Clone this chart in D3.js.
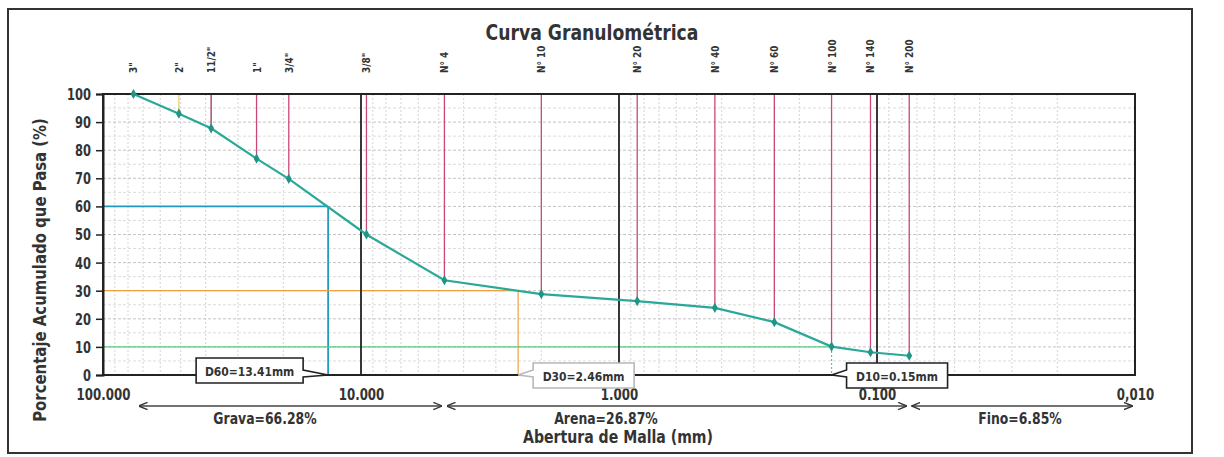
<!DOCTYPE html>
<html><head><meta charset="utf-8">
<script src="https://cdn.jsdelivr.net/npm/d3@7"></script>
<style>
html,body{margin:0;padding:0;background:#fff;}
svg text{font-family:"Liberation Sans Narrow","Arial Narrow","DejaVu Sans Condensed",sans-serif;font-weight:bold;fill:#333;}
</style></head>
<body><svg id="c" width="1224" height="457"></svg>
<script>
const sieveLabels = ['3"','2"','11/2"','1"','3/4"','3/8"','N° 4','N° 10','N° 20','N° 40','N° 60','N° 100','N° 140','N° 200'];
const sieveSizes = [76.2, 50.8, 38.1, 25.4, 19.05, 9.525, 4.75, 2.0, 0.85, 0.425, 0.25, 0.15, 0.106, 0.075];
const passing = [100, 93, 87.8, 77, 69.8, 50, 33.72, 28.8, 26.3, 23.9, 18.8, 10.1, 8.1, 6.85];
const xTickValues = [100, 10, 1, 0.1, 0.01];
const xTickLabels = ['100.000', '10.000', '1.000', '0.100', '0,010'];
const yTickValues = [0,10,20,30,40,50,60,70,80,90,100];
const dNames = ['D60','D30','D10'];
const dPercents = [60, 30, 10];
const dSizes = [13.41, 2.46, 0.15];
const fractionNames = ['Grava','Arena','Fino'];
const fractionValues = [66.28, 26.87, 6.85];
const fractionBounds = [[76.2, 4.75],[4.75, 0.075],[0.075, 0.01]];

const svg = d3.select('#c');
const L = 103, R = 1135, T = 94, B = 375;
const x = d3.scaleLog().domain([100, 0.01]).range([L, R]);
const y = d3.scaleLinear().domain([0, 100]).range([B, T]);

function squeeze(sel, k) {
  sel.each(function () {
    const len = this.getComputedTextLength();
    d3.select(this).attr('textLength', len * k).attr('lengthAdjust', 'spacingAndGlyphs');
  });
  return sel;
}

// outer frame
svg.append('rect').attr('x', 8).attr('y', 9).attr('width', 1184).attr('height', 444)
  .attr('fill', 'none').attr('stroke', '#333').attr('stroke-width', 2);

// minor grid
const minorX = [];
[10, 1, 0.1, 0.01].forEach(dec => { for (let k = 2; k <= 9; k++) minorX.push(dec * k); });
svg.append('g').selectAll('line').data(minorX).join('line')
  .attr('x1', d => x(d)).attr('x2', d => x(d)).attr('y1', T).attr('y2', B)
  .attr('stroke', '#d4d4d4').attr('stroke-width', 1).attr('stroke-dasharray', '2,2');
svg.append('g').selectAll('line').data(d3.range(5, 100, 5)).join('line')
  .attr('x1', L).attr('x2', R).attr('y1', d => y(d)).attr('y2', d => y(d))
  .attr('stroke', d => d % 10 === 0 ? '#c4c4c4' : '#dcdcdc').attr('stroke-width', 1).attr('stroke-dasharray', '3,2');

// D helper lines
const dColors = ['#1f9cc0', '#f0a040', '#5cc880'];
dNames.forEach((n, i) => {
  svg.append('line').attr('x1', L).attr('x2', x(dSizes[i])).attr('y1', y(dPercents[i])).attr('y2', y(dPercents[i]))
    .attr('stroke', dColors[i]).attr('stroke-width', i === 0 ? 1.8 : 1.3);
  svg.append('line').attr('x1', x(dSizes[i])).attr('x2', x(dSizes[i])).attr('y1', y(dPercents[i])).attr('y2', y(0))
    .attr('stroke', dColors[i]).attr('stroke-width', i === 0 ? 1.8 : 1.2)
    .attr('stroke-dasharray', i === 2 ? '2,2' : null);
});

// decade lines
svg.append('g').selectAll('line').data([10, 1, 0.1]).join('line')
  .attr('x1', d => x(d)).attr('x2', d => x(d)).attr('y1', T).attr('y2', B)
  .attr('stroke', '#222').attr('stroke-width', 1.8);

// sieve verticals
svg.append('g').selectAll('line').data(sieveSizes.map((s, i) => ({s, p: passing[i], i})).filter(d => d.p < 100)).join('line')
  .attr('x1', d => x(d.s)).attr('x2', d => x(d.s)).attr('y1', T).attr('y2', d => y(d.p))
  .attr('stroke', d => d.i === 1 ? '#e6cf70' : (d.i === 2 ? '#a0345e' : '#c8487a')).attr('stroke-width', 1.3);

// plot border
svg.append('path').attr('d', `M${L},${T}H${R}V${B}H${L}Z`).attr('fill', 'none').attr('stroke', '#222').attr('stroke-width', 2);

// y axis ticks
const yAxis = d3.axisLeft(y).tickValues(yTickValues).tickSize(7).tickPadding(5);
const gy = svg.append('g').attr('transform', `translate(${L},0)`).call(yAxis);
gy.select('.domain').attr('stroke', '#222').attr('stroke-width', 2);
gy.selectAll('.tick line').attr('stroke', '#222').attr('stroke-width', 1.5);
gy.selectAll('.tick text').attr('font-size', 15).attr('fill', '#333').attr('dy', '0.36em');
squeeze(gy.selectAll('.tick text'), 0.85);

// x axis labels
const xAxis = d3.axisBottom(x).tickValues(xTickValues).tickFormat((d, i) => xTickLabels[i]).tickSize(0).tickPadding(14);
const gx = svg.append('g').attr('transform', `translate(0,${B})`).call(xAxis);
gx.select('.domain').remove();
gx.selectAll('.tick text').attr('font-size', 16).attr('fill', '#333');
squeeze(gx.selectAll('.tick text'), 0.82);

// curve
svg.append('path').datum(sieveSizes.map((s, i) => [s, passing[i]]))
  .attr('d', d3.line().x(d => x(d[0])).y(d => y(d[1])))
  .attr('fill', 'none').attr('stroke', '#2aa898').attr('stroke-width', 2.2);
svg.append('g').selectAll('path').data(sieveSizes.map((s, i) => [s, passing[i]])).join('path')
  .attr('d', d3.symbol(d3.symbolDiamond, 30))
  .attr('transform', d => `translate(${x(d[0])},${y(d[1])})`)
  .attr('fill', '#219485');

// sieve labels
squeeze(svg.append('g').selectAll('text').data(sieveLabels).join('text')
  .attr('transform', (d, i) => `translate(${x(sieveSizes[i]) + 4},73) rotate(-90)`)
  .attr('font-size', 11).attr('text-anchor', 'start').text(d => d), 0.9);

// title
squeeze(svg.append('text').attr('x', 592).attr('y', 40).attr('text-anchor', 'middle').attr('font-size', 22).text('Curva Granulométrica'), 0.87);

// y title
squeeze(svg.append('text').attr('transform', 'translate(46,270) rotate(-90)').attr('text-anchor', 'middle')
  .attr('font-size', 18).text('Porcentaje Acumulado que Pasa (%)'), 0.92);

// D callouts
dNames.forEach((n, i) => {
  const px = x(dSizes[i]), py = y(0);
  const w = i === 0 ? 107 : 101, h = 25;
  let path, bx, by;
  if (i === 0) {
    bx = px - 132; by = 358;
    path = `M${bx},${by}H${bx + w}V${by + 12}L${px},${py}L${bx + w},${by + 19}V${by + h}H${bx}Z`;
  } else {
    bx = px + 15; by = 363;
    path = `M${bx},${by}H${bx + w}V${by + h}H${bx}V${by + 14}L${px},${py}L${bx},${by + 7}Z`;
  }
  svg.append('path').attr('d', path).attr('fill', '#fff')
    .attr('stroke', i === 1 ? '#b8b8b8' : '#222').attr('stroke-width', 1.6);
  squeeze(svg.append('text').attr('x', bx + w / 2).attr('y', by + 18).attr('text-anchor', 'middle')
    .attr('font-size', 13).text(`${n}=${dSizes[i].toFixed(2)}mm`), 0.92);
});

// fraction arrows
const defs = svg.append('defs');
defs.append('marker').attr('id', 'ah').attr('viewBox', '0 0 10 10').attr('refX', 9).attr('refY', 5)
  .attr('markerWidth', 9).attr('markerHeight', 9).attr('markerUnits', 'userSpaceOnUse').attr('orient', 'auto-start-reverse')
  .append('path').attr('d', 'M0,1L10,5L0,9').attr('fill', 'none').attr('stroke', '#333').attr('stroke-width', 1.5);
const ay = 406;
fractionBounds.forEach((b, i) => {
  svg.append('line').attr('x1', x(b[0]) + (i === 0 ? 6 : 3)).attr('x2', x(b[1]) - 3).attr('y1', ay).attr('y2', ay)
    .attr('stroke', '#444').attr('stroke-width', 1.5)
    .attr('marker-start', 'url(#ah)').attr('marker-end', 'url(#ah)');
});
const fracLabelX = [265, 606, 1020];
fractionNames.forEach((n, i) => {
  squeeze(svg.append('text').attr('x', fracLabelX[i]).attr('y', 424).attr('text-anchor', 'middle')
    .attr('font-size', 15).text(`${n}=${fractionValues[i].toFixed(2)}%`), 0.92);
});
squeeze(svg.append('text').attr('x', 618).attr('y', 443).attr('text-anchor', 'middle').attr('font-size', 18).text('Abertura de Malla (mm)'), 0.87);
</script></body></html>
